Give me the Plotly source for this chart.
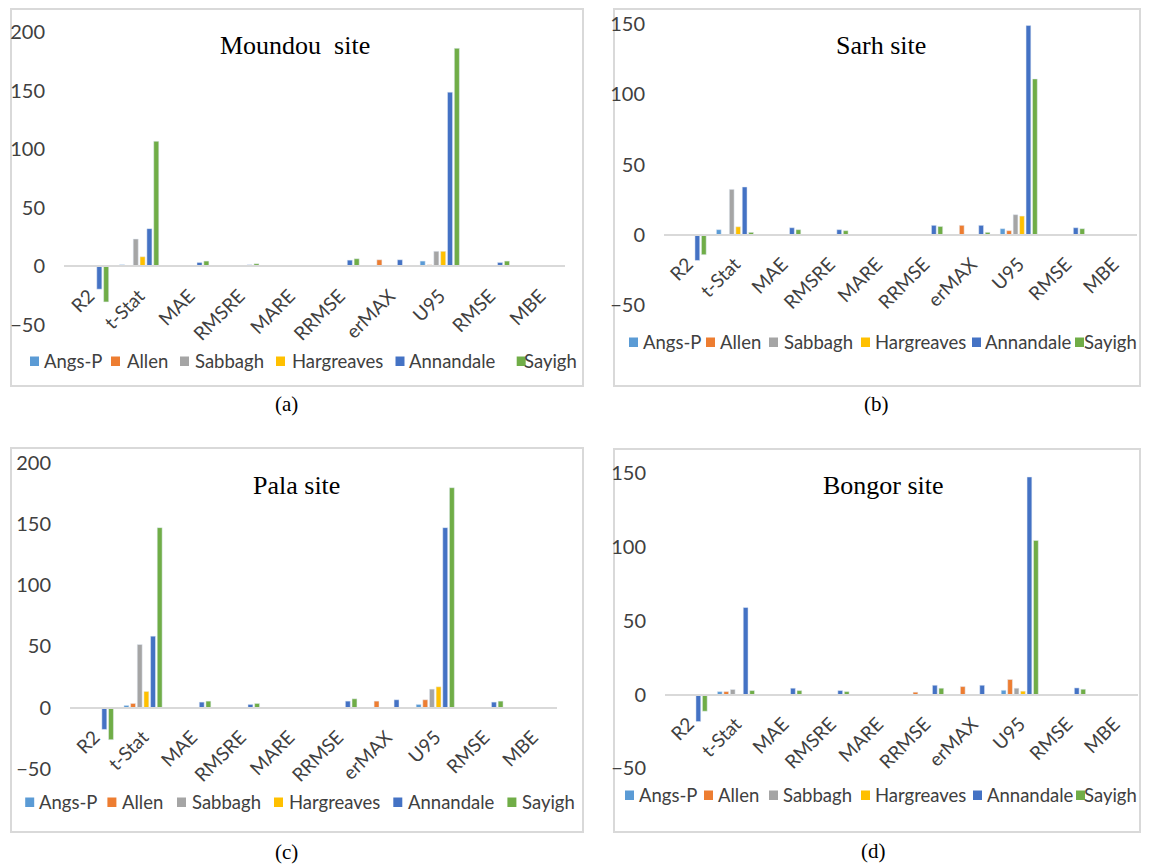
import plotly.graph_objects as go

# page offset (default body margin of the html page)
OFF = 8
W, H = 1149 - OFF, 865 - OFF

categories = ["R2", "t-Stat", "MAE", "RMSRE", "MARE", "RRMSE", "erMAX", "U95", "RMSE", "MBE"]
models = ["Angs-P", "Allen", "Sabbagh", "Hargreaves", "Annandale", "Sayigh"]
colors = ["#5B9BD5", "#ED7D31", "#A5A5A5", "#FFC000", "#4472C4", "#70AD47"]

# Moundou site (a)
moundou = {
    "Angs-P":     [0, 1.5, 0, 0, 0, 0, 0, 4.6, 0, 0],
    "Allen":      [0, 0, 0, 0, 0, 0, 5.7, 1.4, 0, 0],
    "Sabbagh":    [0, 23.4, 0, 0, 0, 0, 0, 12.9, 0, 0],
    "Hargreaves": [0, 8.3, 0, 0, 0, 0, 0, 12.9, 0, 0],
    "Annandale":  [-19.4, 32.3, 3.4, 1.4, 0, 5.4, 5.7, 148.9, 3.4, 0],
    "Sayigh":     [-30.3, 106.9, 4.6, 2.3, 0, 6.6, 0, 186.3, 4.6, 0],
}
# Sarh site (b)
sarh = {
    "Angs-P":     [0, 3.6, 0, 0, 0, 0, 0, 4.3, 0, 0],
    "Allen":      [0, 0, 0, 0, 0, 0, 6.7, 2.9, 0, 0],
    "Sabbagh":    [0, 32.3, 0, 0, 0, 0, 0, 14.3, 0, 0],
    "Hargreaves": [0, 5.7, 0, 0, 0, 0, 0, 13.3, 0, 0],
    "Annandale":  [-18.3, 34.0, 5.0, 3.6, 0, 6.7, 6.7, 148.9, 5.0, 0],
    "Sayigh":     [-14.2, 1.7, 3.6, 2.9, 0, 5.9, 1.7, 110.9, 4.3, 0],
}
# Pala site (c)
pala = {
    "Angs-P":     [0, 1.9, 0, 0, 0, 0, 0, 2.7, 0, 0],
    "Allen":      [0, 3.5, 0, 0, 0, 0, 5.4, 6.5, 0, 0],
    "Sabbagh":    [0, 51.6, 0, 0, 0, 0, 0, 15.2, 0, 0],
    "Hargreaves": [0, 13.3, 0, 0, 0, 0, 0, 17.1, 0, 0],
    "Annandale":  [-17.7, 58.4, 4.6, 2.7, 0, 5.4, 6.5, 147.0, 4.6, 0],
    "Sayigh":     [-26.1, 147.0, 5.4, 3.5, 0, 7.3, 0, 179.6, 5.4, 0],
}
# Bongor site (d)
bongor = {
    "Angs-P":     [0, 2.0, 0, 0, 0, 0, 0, 2.9, 0, 0],
    "Allen":      [0, 2.0, 0, 0, 0, 1.6, 5.4, 10.2, 0, 0],
    "Sabbagh":    [0, 3.4, 0, 0, 0, 0, 0, 4.3, 0, 0],
    "Hargreaves": [0, 0, 0, 0, 0, 0, 0, 2.3, 0, 0],
    "Annandale":  [-18.3, 59.0, 4.3, 2.7, 0, 6.3, 6.3, 147.5, 4.5, 0],
    "Sayigh":     [-11.3, 2.7, 2.7, 2.0, 0, 4.3, 0, 104.5, 3.6, 0],
}

titles = ["Moundou\u00a0 site", "Sarh site", "Pala site", "Bongor site"]
captions = ["(a)", "(b)", "(c)", "(d)"]
yranges = [[-50, 200], [-50, 150], [-50, 200], [-50, 150]]


def fx(px):
    return (px - OFF) / W


def fy(py):
    return 1 - (py - OFF) / H


# layout geometry in window pixels
panels = [
    dict(data=moundou, x0=64, x1=565, ytop=32.3, ybot=325, box=(11, 9, 583, 386),
         title=(295, 45), leg_y=361, leg_sym=[30, 111, 180, 276, 395.5, 516.7],
         leg_txt=[45, 128, 196, 293, 410, 525], cap=(286, 404)),
    dict(data=sarh, x0=664, x1=1137, ytop=24, ybot=305, box=(614, 9, 1140, 386),
         title=(881, 45), leg_y=342, leg_sym=[629, 706, 769, 861, 972, 1075],
         leg_txt=[644, 721, 784.7, 876, 986, None], cap=(876, 404)),
    dict(data=pala, x0=70, x1=557, ytop=462.7, ybot=769, box=(11, 448, 583, 832),
         title=(296, 485), leg_y=802, leg_sym=[25.2, 107.4, 177, 274, 393.3, 507.4],
         leg_txt=[40, 123.3, 192.6, 289.6, 409, 523.3], cap=(286, 852)),
    dict(data=bongor, x0=665, x1=1138, ytop=473.3, ybot=768.3, box=(614, 449, 1140, 832),
         title=(883, 485), leg_y=795, leg_sym=[625, 704, 769, 861, 973, 1076],
         leg_txt=[640, 719, 783.6, 876, 988, None], cap=(873, 851)),
]

fig = go.Figure()
label_font = "Lato, Carlito, Calibri, sans-serif"
serif = "Liberation Serif, Times New Roman, serif"
txt_col = "#404040"

layout = dict(
    width=W, height=H, autosize=False,
    margin=dict(l=0, r=0, t=0, b=0, autoexpand=False),
    paper_bgcolor="white", plot_bgcolor="white",
    barmode="group", bargap=0.18, bargroupgap=0.26,
    showlegend=False, shapes=[], annotations=[],
)

for i, p in enumerate(panels):
    n = "" if i == 0 else str(i + 1)
    xa, ya = "x" + n, "y" + n
    for m, c in zip(models, colors):
        fig.add_trace(go.Bar(
            x=categories, y=p["data"][m], name=m, marker_color=c,
            xaxis=xa, yaxis=ya, showlegend=False,
        ))
    y0, y1 = yranges[i]
    dom_y = [fy(p["ybot"]), fy(p["ytop"])]
    zero_frac = dom_y[0] + (dom_y[1] - dom_y[0]) * (0 - y0) / (y1 - y0)
    layout["xaxis" + n] = dict(
        domain=[fx(p["x0"]), fx(p["x1"])], anchor="free", position=zero_frac,
        type="category", showline=True, linecolor="#D9D9D9", linewidth=2,
        showgrid=False, zeroline=False, ticks="", tickangle=-45,
        tickfont=dict(family=label_font, size=19, color=txt_col),
        ticklabelstandoff=10, layer="above traces",
    )
    layout["yaxis" + n] = dict(
        domain=dom_y, anchor=xa, range=[y0, y1], dtick=50, tick0=0,
        showgrid=False, zeroline=False, showline=False, ticks="",
        tickfont=dict(family=label_font, size=20, color=txt_col),
        ticklabelstandoff=18,
    )
    # panel frame
    bx0, by0, bx1, by1 = p["box"]
    layout["shapes"].append(dict(
        type="rect", xref="paper", yref="paper",
        x0=fx(bx0), x1=fx(bx1), y0=fy(by1), y1=fy(by0),
        line=dict(color="#D9D9D9", width=2), fillcolor="rgba(0,0,0,0)", layer="below",
    ))
    # legend: colour keys and names
    ly = p["leg_y"]
    for k, (m, c) in enumerate(zip(models, colors)):
        sx = p["leg_sym"][k]
        layout["shapes"].append(dict(
            type="rect", xref="paper", yref="paper",
            x0=fx(sx), x1=fx(sx + 9), y0=fy(ly + 5), y1=fy(ly - 4.5),
            line=dict(width=0), fillcolor=c, layer="above",
        ))
        tx = p["leg_txt"][k]
        if tx is None:
            ann_x, anchor = 1139, "right"
        else:
            ann_x, anchor = tx - 3, "left"
        layout["annotations"].append(dict(
            text=m, xref="paper", yref="paper",
            x=fx(ann_x), y=fy(ly), xanchor=anchor, yanchor="middle",
            showarrow=False, font=dict(family=label_font, size=18.5, color=txt_col),
        ))
    layout["annotations"].append(dict(
        text=titles[i], xref="paper", yref="paper",
        x=fx(p["title"][0]), y=fy(p["title"][1]), xanchor="center", yanchor="middle",
        showarrow=False, font=dict(family=serif, size=26, color="#000000"),
    ))
    layout["annotations"].append(dict(
        text=captions[i], xref="paper", yref="paper",
        x=fx(p["cap"][0]), y=fy(p["cap"][1]), xanchor="center", yanchor="middle",
        showarrow=False, font=dict(family=serif, size=21, color="#000000"),
    ))

fig.update_layout(**layout)
fig.write_html("out.html")
